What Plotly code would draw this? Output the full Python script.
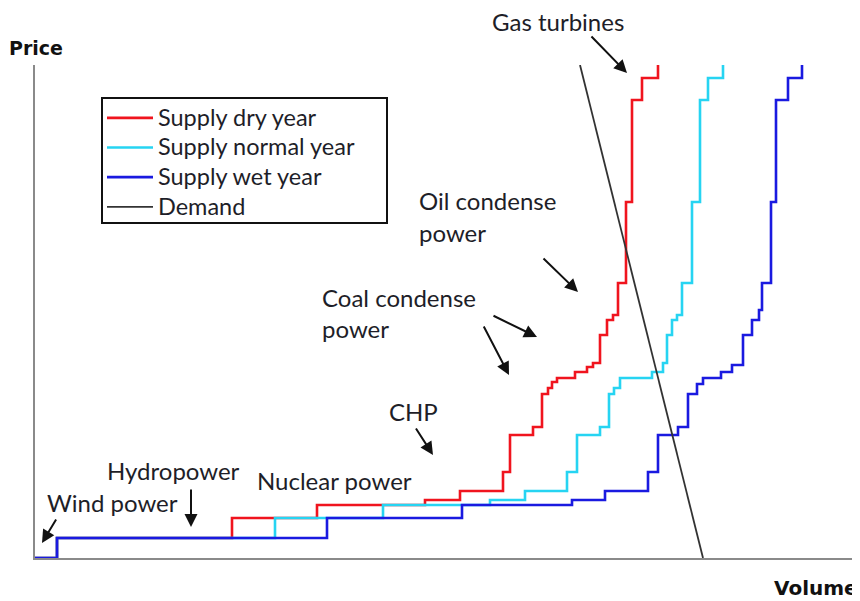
import plotly.graph_objects as go

# ---- data (volume / price in arbitrary units) ----
dry_volume = [0, 22, 197, 282, 390, 425, 468, 475, 498, 507, 513, 517, 522, 540, 552, 558, 565, 572, 578, 583, 591, 597, 607, 623]
dry_price = [0, 20, 40, 53, 58, 67, 86, 123, 131, 164, 170, 176, 180, 186, 191, 195, 223, 238, 243, 275, 356, 458, 480, 493]

normal_volume = [0, 22, 240, 348, 455, 490, 532, 542, 565, 574, 579, 585, 617, 628, 632, 637, 642, 647, 657, 665, 673, 688]
normal_price = [0, 20, 40, 53, 58, 67, 86, 123, 131, 164, 170, 180, 186, 195, 223, 238, 243, 275, 356, 458, 480, 493]

wet_volume = [0, 22, 292, 427, 537, 570, 613, 623, 643, 653, 662, 668, 686, 697, 708, 717, 724, 727, 736, 741, 753, 767]
wet_price = [0, 20, 40, 53, 58, 67, 86, 123, 131, 164, 174, 180, 186, 193, 223, 238, 248, 275, 356, 458, 480, 493]

demand_volume = [545, 668]
demand_price = [493, 0]

series_names = ["Supply dry year", "Supply normal year", "Supply wet year", "Demand"]
series_colors = ["#f0141e", "#26d4f2", "#1a1ae0", "#333333"]

# label text, anchor (volume, price)
labels = [
    ("Gas turbines", 455, 537),
    ("Oil condense", 382, 358),
    ("power", 382, 326),
    ("Coal condense", 285, 261),
    ("power", 285, 230),
    ("CHP", 352, 147),
    ("Hydropower", 70, 88),
    ("Nuclear power", 220, 78),
    ("Wind power", 10, 56),
]
# arrows: (head volume, head price, tail volume, tail price)
arrows = [
    (592, 485, 555, 523),
    (543, 266, 507, 301),
    (502, 221, 457, 243),
    (474, 183, 448, 233),
    (398, 103, 380, 131),
    (156, 31, 156, 70),
    (7, 15, 22, 40),
]

FONT = "Lato"
TXT = "#1e1e28"
XR, YR = 817.0, 493.0  # axis spans


def pxx(v):
    return v / XR


def pxy(v):
    return v / YR


fig = go.Figure()
xs = [dry_volume, normal_volume, wet_volume]
ys = [dry_price, normal_price, wet_price]
for i in range(3):
    fig.add_trace(go.Scatter(
        x=xs[i], y=ys[i], mode="lines",
        name='<span style="font-size:23.5px">%s</span>' % series_names[i],
        line=dict(color=series_colors[i], width=2.6, shape="hv"),
        legendgroup=str(i),
    ))
fig.add_trace(go.Scatter(
    x=demand_volume, y=demand_price, mode="lines",
    name='<span style="font-size:23.5px">%s</span>' % series_names[3],
    line=dict(color=series_colors[3], width=1.8), legendgroup="3",
))

for text, xv, yv in labels:
    fig.add_annotation(x=pxx(xv), y=pxy(yv), xref="paper", yref="paper", text=text,
                       showarrow=False, xanchor="left", yanchor="middle",
                       height=22 if text == "Gas turbines" else None,
                       font=dict(family=FONT, size=24, color=TXT))
for hx, hy, tx, ty in arrows:
    fig.add_annotation(x=hx, y=hy, ax=tx, ay=ty, axref="x", ayref="y", text="",
                       showarrow=True, arrowhead=2, arrowsize=1.3, arrowwidth=2,
                       arrowcolor="#111111")

fig.add_annotation(text="<b>Price</b>", xref="paper", yref="paper", x=pxx(1), y=pxy(510),
                   xanchor="center", yanchor="middle", showarrow=False,
                   font=dict(family="DejaVu Sans", size=19, color="#111111"))
fig.add_annotation(text="<b>Volume</b>", xref="paper", yref="paper", x=pxx(781), y=pxy(-30),
                   xanchor="center", yanchor="middle", showarrow=False,
                   font=dict(family="DejaVu Sans", size=20, color="#111111"))

# legend frame
fig.add_shape(type="rect", xref="paper", yref="paper",
              x0=pxx(67), x1=pxx(352), y0=pxy(335), y1=pxy(460),
              line=dict(color="#111111", width=2), fillcolor="white", layer="below")

fig.update_layout(
    width=852, height=593,
    margin=dict(l=27, r=8, t=57, b=43),
    paper_bgcolor="white", plot_bgcolor="white",
    showlegend=True,
    legend=dict(x=pxx(67), y=pxy(460), xanchor="left", yanchor="top",
                bgcolor="rgba(0,0,0,0)", borderwidth=0,
                font=dict(family=FONT, size=20.5, color=TXT),
                tracegroupgap=0, itemwidth=46, traceorder="normal"),
    xaxis=dict(range=[0, XR], showgrid=False, zeroline=False, showticklabels=False,
               ticks="", showline=True, linecolor="#8a8a8a", linewidth=2, fixedrange=True),
    yaxis=dict(range=[0, YR], showgrid=False, zeroline=False, showticklabels=False,
               ticks="", showline=True, linecolor="#8a8a8a", linewidth=2, fixedrange=True),
)

fig.write_html("out.html")
